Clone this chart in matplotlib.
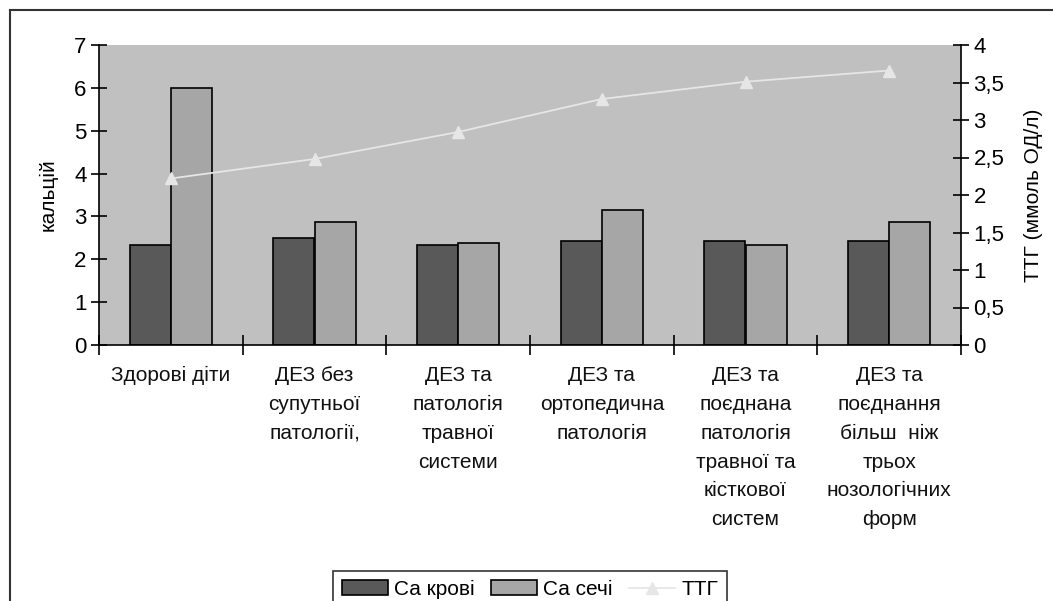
import matplotlib
matplotlib.use("Agg")
import matplotlib.pyplot as plt
import numpy as np
from matplotlib.lines import Line2D

plt.rcParams['font.family'] = ['Liberation Sans', 'DejaVu Sans']

categories = ["Здорові діти",
              "ДЕЗ без\nсупутньої\nпатології,",
              "ДЕЗ та\nпатологія\nтравної\nсистеми",
              "ДЕЗ та\nортопедична\nпатологія",
              "ДЕЗ та\nпоєднана\nпатологія\nтравної та\nкісткової\nсистем",
              "ДЕЗ та\nпоєднання\nбільш  ніж\nтрьох\nнозологічних\nформ"]
ca_blood = [2.33, 2.49, 2.33, 2.43, 2.43, 2.43]
ca_urine = [6.0, 2.88, 2.39, 3.15, 2.33, 2.88]
ttg = [2.22, 2.48, 2.84, 3.28, 3.51, 3.66]
left_ticks = [0, 1, 2, 3, 4, 5, 6, 7]
right_ticks = [0, 0.5, 1, 1.5, 2, 2.5, 3, 3.5, 4]
right_labels = ["0", "0,5", "1", "1,5", "2", "2,5", "3", "3,5", "4"]

W, H = 1053, 601
fig = plt.figure(figsize=(W/100, H/100), dpi=100)
ax = fig.add_axes([99/W, 1-345/H, (961-99)/W, 300/H])
ax.set_facecolor('#c0c0c0')

x = np.arange(len(categories))
bw = 0.286
ax.bar(x - bw/2, ca_blood, bw, color='#595959', edgecolor='black', linewidth=1.2, label='Са крові', zorder=2)
ax.bar(x + bw/2, ca_urine, bw, color='#a6a6a6', edgecolor='black', linewidth=1.2, label='Са сечі', zorder=2)
ax.set_xlim(-0.5, len(categories)-0.5)
ax.set_ylim(0, 7)
ax.set_yticks(left_ticks)
ax.set_xticks(np.arange(len(categories)+1) - 0.5)
ax.set_xticklabels([])
ax.set_xticks(x, minor=True)
ax.set_xticklabels(categories, minor=True, fontsize=15, linespacing=1.66, va='top', color='#111111')
ax.tick_params(axis='x', which='minor', length=0, pad=15)
ax.tick_params(axis='x', which='major', direction='inout', length=14, width=1.2)
ax.tick_params(axis='y', direction='inout', length=12, width=1.2, labelsize=16, pad=3)
for s in ['top', 'right']:
    ax.spines[s].set_visible(False)
for s in ['left', 'bottom']:
    ax.spines[s].set_linewidth(1.2)
ax.set_ylabel('кальцій', fontsize=15, labelpad=12)

ax2 = ax.twinx()
ax2.plot(x, ttg, color='#e6e6e6', marker='^', markersize=8, linewidth=1.3, label='ТТГ', zorder=3)
ax2.set_ylim(0, 4)
ax2.set_yticks(right_ticks)
ax2.set_yticklabels(right_labels)
ax2.tick_params(axis='y', direction='inout', length=12, width=1.2, labelsize=16, pad=3)
for s in ['top', 'left', 'bottom']:
    ax2.spines[s].set_visible(False)
ax2.spines['right'].set_linewidth(1.2)
ax2.set_ylabel('ТТГ (ммоль ОД/л)', fontsize=15, labelpad=14)

# outer chart border
fig.add_artist(Line2D([10/W, 10/W], [0, 1-10/H], color='#333333', linewidth=1.5, transform=fig.transFigure))
fig.add_artist(Line2D([10/W, 1], [1-10/H, 1-10/H], color='#333333', linewidth=1.5, transform=fig.transFigure))

h1, l1 = ax.get_legend_handles_labels()
h2, l2 = ax2.get_legend_handles_labels()
leg = fig.legend(h1 + h2, l1 + l2, loc='upper center', bbox_to_anchor=(530/W, 1-561/H),
                 ncol=3, frameon=True, fancybox=False, edgecolor='black', fontsize=15,
                 handlelength=2.2, handletextpad=0.3, columnspacing=0.8, borderpad=0.4)
leg.get_frame().set_linewidth(1.2)

fig.savefig('out.png', dpi=100)
